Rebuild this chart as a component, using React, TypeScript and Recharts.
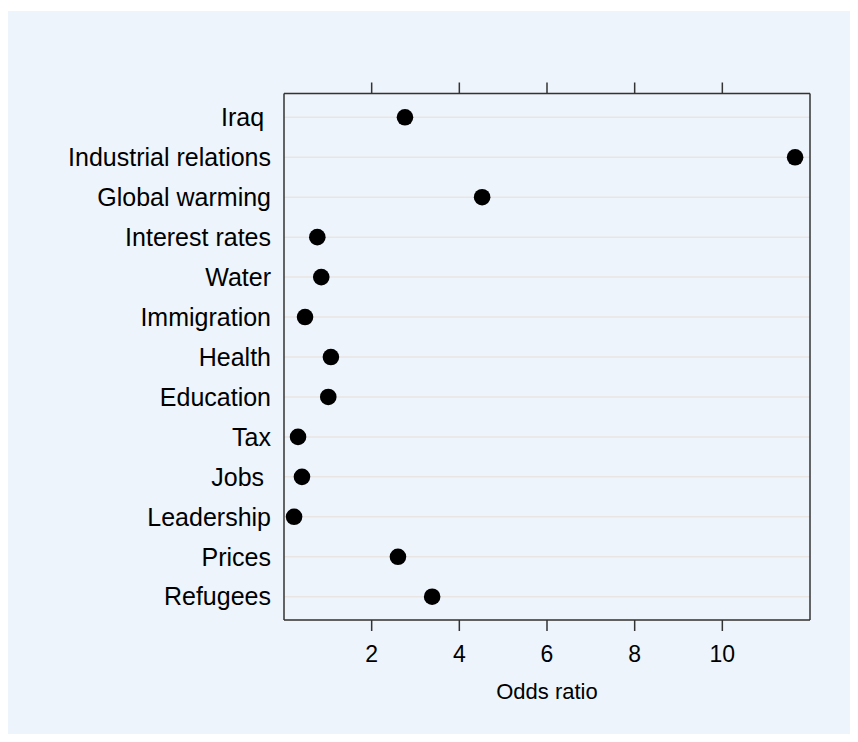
import React from "react";
import {
  ScatterChart,
  Scatter,
  XAxis,
  YAxis,
  CartesianGrid,
} from "recharts";

// categories top to bottom (trailing spaces kept as in the original labels)
const categories = [
  "Iraq ",
  "Industrial relations",
  "Global warming",
  "Interest rates",
  "Water",
  "Immigration",
  "Health",
  "Education",
  "Tax",
  "Jobs ",
  "Leadership",
  "Prices",
  "Refugees",
];

const oddsRatios = [2.76, 11.66, 4.52, 0.76, 0.85, 0.48, 1.07, 1.01, 0.32, 0.41, 0.23, 2.6, 3.38];

const xTicks = [2, 4, 6, 8, 10];

const data = categories.map((name, i) => ({ name, idx: i, or: oddsRatios[i] }));
const rowTicks = categories.map((_, i) => i);

const FONT = '"Liberation Sans", Arial, Helvetica, sans-serif';
const BG = "#edf4fc";
const AXIS = "#333333";

function CategoryTick(props: any) {
  const { x, y, payload } = props;
  return (
    <text
      x={x}
      y={y}
      dy="0.35em"
      textAnchor="end"
      fontSize={25}
      fontFamily={FONT}
      fill="#000"
      style={{ whiteSpace: "pre" }}
    >
      {categories[payload.value]}
    </text>
  );
}

function ValueTick(props: any) {
  const { x, y, payload } = props;
  return (
    <text x={x} y={y} dy="0.72em" textAnchor="middle" fontSize={23} fontFamily={FONT} fill="#000">
      {payload.value}
    </text>
  );
}

function EmptyTick() {
  return <g />;
}

function AxisTitle(props: any) {
  const { viewBox } = props;
  const cx = viewBox.x + viewBox.width / 2;
  return (
    <text x={cx} y={viewBox.y + 63} dy="0.72em" textAnchor="middle" fontSize={22} fontFamily={FONT} fill="#000">
      Odds ratio
    </text>
  );
}

function Dot(props: any) {
  const { cx, cy } = props;
  return <circle cx={cx} cy={cy} r={8.3} fill="#000" />;
}

const NoMark = () => <g />;

export default function App() {
  return (
    <div
      style={{
        marginLeft: -1,
        marginTop: 3,
        width: 843,
        height: 723,
        background: BG,
        fontFamily: FONT,
      }}
    >
      <ScatterChart
        width={843}
        height={723}
        margin={{ top: 61.5, right: 39, bottom: 0, left: 0 }}
      >
        <CartesianGrid
          yAxisId="left"
          xAxisId="bottom"
          horizontal
          vertical={false}
          stroke="#e9e5e3"
          strokeWidth={1.5}
        />
        <XAxis
          xAxisId="bottom"
          type="number"
          dataKey="or"
          domain={[0, 12]}
          ticks={xTicks}
          allowDataOverflow
          height={114}
          tickSize={11}
          tickMargin={14}
          axisLine={{ stroke: AXIS, strokeWidth: 1.5 }}
          tickLine={{ stroke: AXIS, strokeWidth: 1.5 }}
          tick={<ValueTick />}
          label={<AxisTitle />}
        />
        <XAxis
          xAxisId="top"
          orientation="top"
          type="number"
          dataKey="or"
          domain={[0, 12]}
          ticks={xTicks}
          interval={0}
          allowDataOverflow
          height={21}
          tickSize={11}
          tick={<EmptyTick />}
          axisLine={{ stroke: AXIS, strokeWidth: 1.5 }}
          tickLine={{ stroke: AXIS, strokeWidth: 1.5 }}
        />
        <YAxis
          yAxisId="left"
          type="number"
          dataKey="idx"
          domain={[-0.596, 12.583]}
          reversed
          allowDataOverflow
          ticks={rowTicks}
          interval={0}
          width={277}
          tickSize={0}
          tickMargin={13}
          tickLine={false}
          axisLine={{ stroke: AXIS, strokeWidth: 1.5 }}
          tick={<CategoryTick />}
        />
        <YAxis
          yAxisId="right"
          orientation="right"
          type="number"
          domain={[0, 1]}
          width={1}
          tick={<EmptyTick />}
          tickLine={false}
          axisLine={{ stroke: AXIS, strokeWidth: 1.5 }}
        />
        {/* invisible series so the top axis has data and draws its ticks */}
        <Scatter
          data={data}
          xAxisId="top"
          yAxisId="left"
          shape={NoMark}
          isAnimationActive={false}
        />
        <Scatter
          data={data}
          xAxisId="bottom"
          yAxisId="left"
          fill="#000"
          shape={<Dot />}
          isAnimationActive={false}
        />
      </ScatterChart>
    </div>
  );
}
